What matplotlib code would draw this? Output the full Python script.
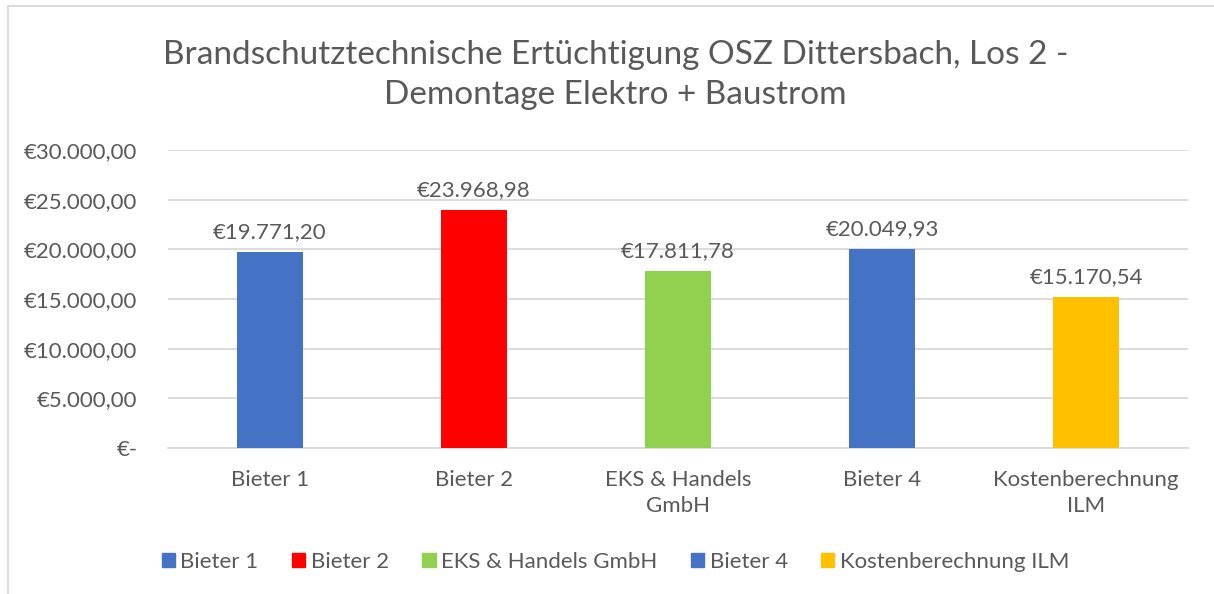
import matplotlib.pyplot as plt
import matplotlib.patches as mpatches

# Daten
kategorien = ["Bieter 1", "Bieter 2", "EKS & Handels\nGmbH", "Bieter 4", "Kostenberechnung\nILM"]
legende = ["Bieter 1", "Bieter 2", "EKS & Handels GmbH", "Bieter 4", "Kostenberechnung ILM"]
werte = [19771.20, 23968.98, 17811.78, 20049.93, 15170.54]
farben = ["#4472C4", "#FF0000", "#92D050", "#4472C4", "#FFC000"]
yticks = [0, 5000, 10000, 15000, 20000, 25000, 30000]


def euro(v):
    if v == 0:
        return "€-"
    s = f"{v:,.2f}"
    s = s.replace(",", "X").replace(".", ",").replace("X", ".")
    return "€" + s


plt.rcParams['font.family'] = ['Lato', 'DejaVu Sans']
txt = "#595959"
fs = 16

fig = plt.figure(figsize=(12.14, 5.94), dpi=100)
ax = fig.add_axes([168 / 1214, 1 - 448 / 594, 1020 / 1214, 298 / 594])

x = range(len(werte))
bars = ax.bar(x, werte, width=0.32, color=farben, zorder=3)
for i, v in enumerate(werte):
    ax.annotate(euro(v), (i, v), xytext=(0, 7), textcoords="offset points",
                ha="center", va="bottom", fontsize=fs, color=txt)

ax.set_xlim(-0.5, len(werte) - 0.5)
ax.set_ylim(0, 30000)
ax.set_yticks(yticks)
ax.set_yticklabels([euro(t) for t in yticks], fontsize=fs, color=txt)
ax.set_xticks(list(x))
ax.set_xticklabels(kategorien, fontsize=fs, color=txt, linespacing=1.35)
ax.tick_params(axis="y", length=0, pad=22)
ax.tick_params(axis="x", length=0, pad=16)
ax.yaxis.grid(True, color="#D9D9D9", linewidth=1.3, zorder=0)
for s in ["top", "right", "left"]:
    ax.spines[s].set_visible(False)
ax.spines["bottom"].set_color("#D9D9D9")
ax.spines["bottom"].set_linewidth(1.3)

fig.text(0.507, 1 - 75 / 594, "Brandschutztechnische Ertüchtigung OSZ Dittersbach, Los 2 -\nDemontage Elektro + Baustrom",
         ha="center", va="center", fontsize=24, color=txt, linespacing=1.4)

handles = [mpatches.Patch(color=c) for c in farben]
fig.legend(handles, legende, loc="center", bbox_to_anchor=(0.507, 1 - 562 / 594), ncol=5,
           frameon=False, fontsize=fs, labelcolor=txt, handlelength=0.6, handleheight=0.6,
           handletextpad=0.25, columnspacing=1.5)

# Rahmen des Diagrammbereichs
fig.add_artist(mpatches.Rectangle((8 / 1214, -0.1), 1.2, 1 - 6 / 594 + 0.1, transform=fig.transFigure,
                                  fill=False, edgecolor="#D9D9D9", linewidth=1.3, clip_on=False))

fig.savefig("out.png", dpi=100, facecolor="white")
